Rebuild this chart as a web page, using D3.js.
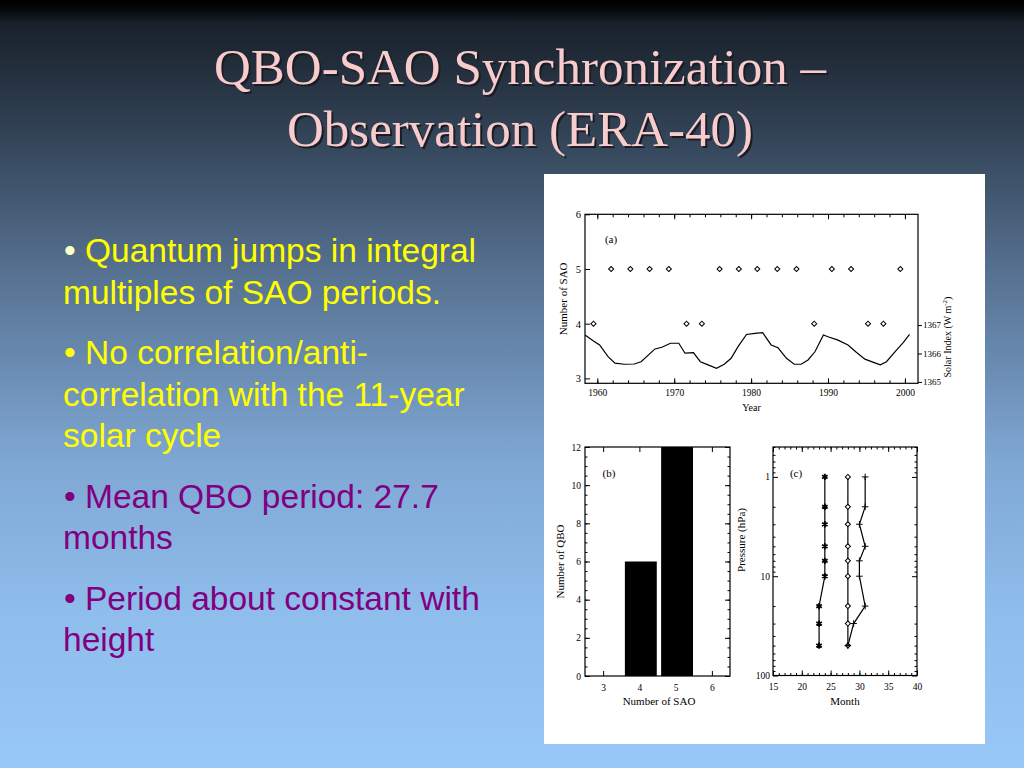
<!DOCTYPE html>
<html>
<head>
<meta charset="utf-8">
<script src="https://cdn.jsdelivr.net/npm/d3@7/dist/d3.min.js"></script>
<style>
  body { margin: 0; padding: 0; overflow: hidden; }
  svg { display: block; }
</style>
</head>
<body>
<svg id="chart"></svg>
<script>
// ---- data ----
const titleLines = ["QBO-SAO Synchronization \u2013", "Observation (ERA-40)"];
const bullets = [
  {lines: ["Quantum jumps in integral", "multiples of SAO periods."], color: "#ffff00", dot: "#ffffc8"},
  {lines: ["No correlation/anti-", "correlation with the 11-year", "solar cycle"], color: "#ffff00", dot: "#ffff00"},
  {lines: ["Mean QBO period: 27.7", "months"], color: "#800080", dot: "#800080"},
  {lines: ["Period about constant with", "height"], color: "#800080", dot: "#800080"}
];

// (a) number of SAO cycles per QBO cycle
const saoYears  = [1959.5, 1961.8, 1964.3, 1966.8, 1969.3, 1971.6, 1973.6, 1975.9, 1978.4,
                   1980.8, 1983.4, 1985.9, 1988.2, 1990.5, 1993.0, 1995.2, 1997.2, 1999.4];
const saoCounts = [4, 5, 5, 5, 5, 4, 4, 5, 5, 5, 5, 5, 4, 5, 5, 4, 4, 5];
// (a) solar index
const solarYears = [1958.4, 1959.5, 1960.3, 1961.4, 1962.3, 1963.5, 1964.8, 1965.7, 1967.5, 1968.4,
                    1969.5, 1970.6, 1971.4, 1972.5, 1973.4, 1974.4, 1975.5, 1976.5, 1977.4, 1978.3,
                    1979.4, 1980.5, 1981.5, 1982.6, 1983.5, 1984.6, 1985.6, 1986.5, 1987.4, 1988.3,
                    1989.4, 1990.0, 1991.3, 1992.6, 1993.6, 1994.8, 1996.0, 1996.8, 1997.6, 1998.7,
                    1999.8, 2000.6];
const solarIndex = [1366.65, 1366.44, 1366.30, 1365.89, 1365.66, 1365.62, 1365.63, 1365.71, 1366.16, 1366.22,
                    1366.36, 1366.36, 1366.01, 1366.03, 1365.71, 1365.60, 1365.48, 1365.62, 1365.83, 1366.24,
                    1366.67, 1366.71, 1366.73, 1366.30, 1366.20, 1365.83, 1365.62, 1365.62, 1365.77, 1366.06,
                    1366.65, 1366.59, 1366.47, 1366.30, 1366.06, 1365.80, 1365.68, 1365.60, 1365.71, 1366.06,
                    1366.39, 1366.67];

// (b) histogram
const histSao = [4, 5];
const histQbo = [6, 12];

// (c) QBO period vs pressure
const pressureLevels = [1, 2, 3, 5, 7, 10, 20, 30, 50];
const periodMin  = [24, 24, 24, 24, 24, 24, 23, 23, 23];
const periodMean = [28, 28, 28, 28, 28, 28, 28, 28, 28];
const periodMax  = [31, 31, 30, 31, 30, 30, 31, 29, 28];

// ---- page ----
const W = 1024, H = 768;
const svg = d3.select("#chart").attr("width", W).attr("height", H);

const grad = svg.append("defs").append("linearGradient")
  .attr("id", "bg").attr("x1", 0).attr("y1", 0).attr("x2", 0).attr("y2", 1);
[[0, "#000000"], [0.012, "#05080b"], [0.03, "#19212b"], [0.15, "#2e3d4f"], [0.35, "#55708f"],
 [0.6, "#7fa7d4"], [0.8, "#8fbdec"], [1, "#98c8f8"]]
  .forEach(s => grad.append("stop").attr("offset", s[0]).attr("stop-color", s[1]));
svg.append("rect").attr("width", W).attr("height", H).attr("fill", "url(#bg)");

// title with shadow
titleLines.forEach(function(t, i) {
  svg.append("text").text(t)
    .attr("x", 522).attr("y", 86 + i * 62)
    .attr("text-anchor", "middle")
    .style("font-family", "'Liberation Serif', 'Times New Roman', serif")
    .style("font-size", "51px").style("fill", "#1a1c24");
  svg.append("text").text(t)
    .attr("x", 520).attr("y", 84 + i * 62)
    .attr("text-anchor", "middle")
    .style("font-family", "'Liberation Serif', 'Times New Roman', serif")
    .style("font-size", "51px").style("fill", "#f8cccc");
});

// bullets
let by = 262;
bullets.forEach(function(b) {
  b.lines.forEach(function(line, j) {
    if (j == 0) {
      svg.append("text").text("\u2022").attr("x", 64).attr("y", by)
        .style("font-family", "'Liberation Sans', Arial, sans-serif")
        .style("font-size", "33.5px").style("fill", b.dot);
    }
    svg.append("text").text(line)
      .attr("x", j == 0 ? 85 : 63).attr("y", by)
      .style("font-family", "'Liberation Sans', Arial, sans-serif")
      .style("font-size", "33.5px").style("fill", b.color);
    by += 41.5;
  });
  by += 19;
});

// figure paper
svg.append("rect").attr("x", 544).attr("y", 174).attr("width", 441).attr("height", 570).attr("fill", "white");

const fig = svg.append("g").attr("class", "fig");
const serif = "'Liberation Serif', 'Times New Roman', serif";
const intFmt = d3.format("d");

function styleAxis(g, size) {
  g.select(".domain").remove();
  g.selectAll("line").attr("stroke", "black").attr("stroke-width", 1);
  g.selectAll("text").style("font-family", serif).style("font-size", size || "9.5px").attr("fill", "black");
}
function addAxis(axis, tx, ty) {
  const g = fig.append("g").attr("transform", "translate(" + tx + "," + ty + ")").call(axis);
  styleAxis(g);
  return g;
}
function frame(x0, y0, x1, y1) {
  fig.append("rect").attr("x", x0).attr("y", y0).attr("width", x1 - x0).attr("height", y1 - y0)
    .attr("fill", "none").attr("stroke", "black").attr("stroke-width", 1.2);
}
function label(txt, x, y, rot, size) {
  const t = fig.append("text").text(txt).attr("text-anchor", "middle")
    .style("font-family", serif).style("font-size", size || "11px").attr("fill", "black");
  if (rot) t.attr("transform", "translate(" + x + "," + y + ") rotate(-90)");
  else t.attr("x", x).attr("y", y);
  return t;
}

// ---- panel (a) ----
const ax0 = 585, ax1 = 918, ay0 = 214.3, ay1 = 383.3;
const xA = d3.scaleLinear().domain([1958.4, 2001.7]).range([ax0, ax1]);
const yA = d3.scaleLinear().domain([2.91, 6]).range([ay1, ay0]);
const sA = d3.scaleLinear().domain([1364.95, 1370.9]).range([ay1, ay0]);
const decades = [1960, 1970, 1980, 1990, 2000];
const biYears = d3.range(1960, 2001, 2);

addAxis(d3.axisBottom(xA).tickValues(decades).tickSize(-5).tickPadding(6).tickFormat(intFmt), 0, ay1);
addAxis(d3.axisBottom(xA).tickValues(biYears).tickSize(-3).tickFormat(""), 0, ay1);
addAxis(d3.axisTop(xA).tickValues(decades).tickSize(-5).tickFormat(""), 0, ay0);
addAxis(d3.axisTop(xA).tickValues(biYears).tickSize(-3).tickFormat(""), 0, ay0);
addAxis(d3.axisLeft(yA).tickValues([3, 4, 5, 6]).tickSize(-5).tickPadding(4).tickFormat(intFmt), ax0, 0)
  .selectAll("text").style("font-size", "10.5px");
addAxis(d3.axisRight(sA).tickValues([1365, 1366, 1367]).tickSize(4).tickPadding(1).tickFormat(intFmt), ax1, 0)
  .selectAll("text").style("font-size", "9px");
frame(ax0, ay0, ax1, ay1);

fig.append("path")
  .datum(solarYears.map((d, i) => [d, solarIndex[i]]))
  .attr("fill", "none").attr("stroke", "black").attr("stroke-width", 1.2)
  .attr("d", d3.line().x(d => xA(d[0])).y(d => sA(d[1])));

fig.append("g").selectAll("path")
  .data(saoYears.map((d, i) => [d, saoCounts[i]]))
  .join("path")
  .attr("d", d3.symbol(d3.symbolSquare, 13))
  .attr("transform", d => "translate(" + xA(d[0]) + "," + yA(d[1]) + ") rotate(45)")
  .attr("fill", "none").attr("stroke", "black").attr("stroke-width", 1);

label("(a)", 611, 243);
label("Number of SAO", 567, (ay0 + ay1) / 2, true);
label("Year", (ax0 + ax1) / 2, 411, false, "10px");
fig.append("text")
  .attr("transform", "translate(951,337) rotate(-90)")
  .attr("text-anchor", "middle")
  .style("font-family", serif).style("font-size", "10px")
  .html("Solar Index (W m<tspan dy='-4' font-size='7px'>-2</tspan><tspan dy='4'>)</tspan>");

// ---- panel (b) ----
const bx0 = 585, bx1 = 730, by0 = 447, by1 = 676;
const xB = d3.scaleLinear().domain([2.5, 6.5]).range([bx0, bx1]);
const yB = d3.scaleLinear().domain([0, 12]).range([by1, by0]);

fig.append("defs").append("clipPath").attr("id", "clipB")
  .append("rect").attr("x", bx0).attr("y", by0).attr("width", bx1 - bx0).attr("height", by1 - by0);
fig.append("g").attr("clip-path", "url(#clipB)").selectAll("rect")
  .data(histSao.map((d, i) => [d, histQbo[i]]))
  .join("rect")
  .attr("x", d => xB(d[0] - 0.4))
  .attr("width", d => xB(d[0] + 0.48) - xB(d[0] - 0.4))
  .attr("y", d => yB(d[1]))
  .attr("height", d => yB(0) - yB(d[1]))
  .attr("fill", "black");

addAxis(d3.axisBottom(xB).tickValues([3, 4, 5, 6]).tickSize(-5).tickPadding(8).tickFormat(intFmt), 0, by1);
addAxis(d3.axisTop(xB).tickValues([3, 4, 5, 6]).tickSize(-5).tickFormat(""), 0, by0);
addAxis(d3.axisLeft(yB).tickValues(d3.range(0, 13, 2)).tickSize(-5).tickPadding(4), bx0, 0);
addAxis(d3.axisLeft(yB).tickValues(d3.range(0, 12.1, 0.5)).tickSize(-2.5).tickFormat(""), bx0, 0);
addAxis(d3.axisRight(yB).tickValues(d3.range(0, 13, 2)).tickSize(-5).tickFormat(""), bx1, 0);
addAxis(d3.axisRight(yB).tickValues(d3.range(0, 12.1, 0.5)).tickSize(-2.5).tickFormat(""), bx1, 0);
frame(bx0, by0, bx1, by1);

label("(b)", 609, 477);
label("Number of QBO", 564, (by0 + by1) / 2, true);
label("Number of SAO", 659, 705);

// ---- panel (c) ----
const cx0 = 773, cx1 = 917, cy0 = 447, cy1 = 675.5;
const xC = d3.scaleLinear().domain([15, 40]).range([cx0, cx1]);
const yC = d3.scaleLog().domain([0.5, 100]).range([cy0, cy1]);
const minorP = [0.5, 0.6, 0.7, 0.8, 0.9, 2, 3, 4, 5, 6, 7, 8, 9, 20, 30, 40, 50, 60, 70, 80, 90];

addAxis(d3.axisBottom(xC).tickValues(d3.range(15, 41, 5)).tickSize(-5).tickPadding(8).tickFormat(intFmt), 0, cy1);
addAxis(d3.axisBottom(xC).tickValues(d3.range(15, 41, 1)).tickSize(-2.5).tickFormat(""), 0, cy1);
addAxis(d3.axisTop(xC).tickValues(d3.range(15, 41, 5)).tickSize(-5).tickFormat(""), 0, cy0);
addAxis(d3.axisTop(xC).tickValues(d3.range(15, 41, 1)).tickSize(-2.5).tickFormat(""), 0, cy0);
addAxis(d3.axisLeft(yC).tickValues([1, 10, 100]).tickSize(-5).tickPadding(3).tickFormat(intFmt), cx0, 0);
addAxis(d3.axisLeft(yC).tickValues(minorP).tickSize(-2.5).tickFormat(""), cx0, 0);
addAxis(d3.axisRight(yC).tickValues([1, 10, 100]).tickSize(-5).tickFormat(""), cx1, 0);
addAxis(d3.axisRight(yC).tickValues(minorP).tickSize(-2.5).tickFormat(""), cx1, 0);
frame(cx0, cy0, cx1, cy1);

const lineC = d3.line().x(d => xC(d[0])).y(d => yC(d[1]));
const seriesC = [
  {vals: periodMin,  sym: d3.symbolAsterisk, size: 28, sw: 1.8, rot: 0},
  {vals: periodMean, sym: d3.symbolSquare,   size: 13, sw: 1,   rot: 45},
  {vals: periodMax,  sym: d3.symbolPlus,     size: 16, sw: 1,   rot: 0}
];
seriesC.forEach(function(s) {
  const pts = s.vals.map((v, i) => [v, pressureLevels[i]]);
  fig.append("path").datum(pts)
    .attr("fill", "none").attr("stroke", "black").attr("stroke-width", 1.2)
    .attr("d", lineC);
  fig.append("g").selectAll("path").data(pts).join("path")
    .attr("d", d3.symbol(s.sym, s.size))
    .attr("transform", d => "translate(" + xC(d[0]) + "," + yC(d[1]) + ") rotate(" + s.rot + ")")
    .attr("fill", s.sym === d3.symbolSquare ? "white" : "none")
    .attr("stroke", "black").attr("stroke-width", s.sw);
});

label("(c)", 796, 477);
label("Pressure (hPa)", 745, 540, true);
label("Month", (cx0 + cx1) / 2, 705);
</script>
</body>
</html>
